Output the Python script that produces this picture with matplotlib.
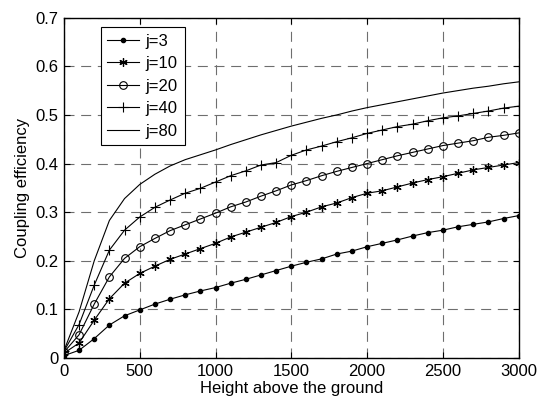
import numpy as np
import matplotlib.pyplot as plt

plt.rcParams['font.family'] = ['Liberation Sans', 'DejaVu Sans']
plt.rcParams['font.size'] = 12

# alturas (m)
altura = np.arange(0, 3100, 100)

# eficiencia de acoplamiento
j3 = [0.005, 0.016, 0.040, 0.068, 0.087, 0.099, 0.111, 0.121, 0.130, 0.138,
      0.145, 0.154, 0.162, 0.171, 0.180, 0.189, 0.197, 0.204, 0.214, 0.220,
      0.229, 0.236, 0.243, 0.251, 0.258, 0.263, 0.270, 0.275, 0.280, 0.287, 0.293]
j10 = [0.010, 0.031, 0.078, 0.122, 0.154, 0.174, 0.189, 0.203, 0.214, 0.225,
       0.236, 0.249, 0.259, 0.269, 0.279, 0.291, 0.300, 0.311, 0.319, 0.330,
       0.339, 0.344, 0.352, 0.360, 0.367, 0.373, 0.380, 0.387, 0.392, 0.397, 0.402]
j20 = [0.012, 0.048, 0.111, 0.167, 0.205, 0.229, 0.246, 0.262, 0.274, 0.286,
       0.298, 0.311, 0.321, 0.333, 0.344, 0.356, 0.365, 0.375, 0.384, 0.392,
       0.400, 0.408, 0.416, 0.423, 0.430, 0.437, 0.442, 0.447, 0.454, 0.458, 0.463]
j40 = [0.014, 0.069, 0.150, 0.222, 0.263, 0.290, 0.310, 0.325, 0.339, 0.349,
       0.362, 0.375, 0.385, 0.397, 0.402, 0.417, 0.428, 0.436, 0.445, 0.453,
       0.462, 0.469, 0.476, 0.481, 0.488, 0.494, 0.498, 0.503, 0.508, 0.514, 0.518]
j80 = [0.015, 0.095, 0.200, 0.283, 0.328, 0.357, 0.378, 0.395, 0.408, 0.418,
       0.428, 0.439, 0.449, 0.459, 0.468, 0.477, 0.485, 0.493, 0.500, 0.508,
       0.515, 0.521, 0.527, 0.533, 0.539, 0.545, 0.550, 0.555, 0.559, 0.564, 0.568]

fig = plt.figure(figsize=(5.37, 4.01), dpi=100)
ax = fig.add_axes([0.119, 0.107, 0.847, 0.849])

lw = 0.8
ax.plot(altura, j3, 'k.-', lw=lw, markersize=6, label='j=3')
ax.plot(altura, j10, 'k-', marker=(6, 2, 0), lw=lw, markersize=6, mew=0.9, label='j=10')
ax.plot(altura, j20, 'ko-', lw=lw, markersize=5.5, mfc='none', mew=0.8, label='j=20')
ax.plot(altura, j40, 'k+-', lw=lw, markersize=6.5, mew=0.8, label='j=40')
ax.plot(altura, j80, 'k-', lw=lw, label='j=80')

ax.set_xlim(0, 3000)
ax.set_ylim(0, 0.7)
ax.set_xticks(np.arange(0, 3001, 500))
ax.set_yticks(np.arange(0, 0.71, 0.1))
ax.set_yticklabels(['0', '0.1', '0.2', '0.3', '0.4', '0.5', '0.6', '0.7'])
ax.tick_params(direction='in', top=True, right=True, length=4, width=0.8, pad=4)
ax.grid(True, color='#6e6e6e', linestyle=(0, (9, 6)), linewidth=0.8)
for s in ax.spines.values():
    s.set_linewidth(1.0)

ax.set_xlabel('Height above the ground', labelpad=2)
ax.set_ylabel('Coupling efficiency', labelpad=4)

leg = ax.legend(loc='upper left', bbox_to_anchor=(0.081, 0.973), fancybox=False,
                framealpha=1, edgecolor='black', handlelength=1.9,
                borderaxespad=0, borderpad=0.4, labelspacing=0.45,
                handletextpad=0.4)
leg.get_frame().set_linewidth(0.8)

fig.savefig('out.png', dpi=100)
